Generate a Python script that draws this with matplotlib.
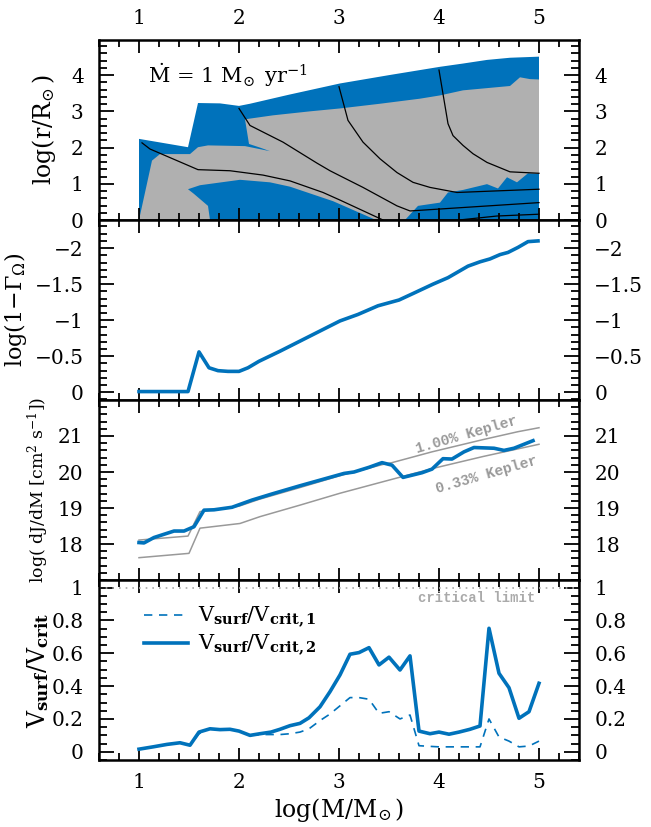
import matplotlib
matplotlib.use('Agg')
import matplotlib.pyplot as plt
from matplotlib.ticker import MultipleLocator, FixedLocator, FuncFormatter

plt.rcParams['font.family'] = ['DejaVu Serif']
plt.rcParams['mathtext.fontset'] = 'dejavuserif'

BLUE = '#0072BB'
GRAY_FILL = '#B0B0B0'
GRAY_LINE = '#999999'

# --- panel 1: Kippenhahn-type structure (log r vs log M) ---
kip_top_x = [1.0, 1.49, 1.59, 1.81, 2.0, 2.11, 2.5, 3.01, 3.5, 4.01, 4.24, 4.48, 4.71, 5.0]
kip_top_y = [2.24, 2.01, 3.23, 3.22, 3.15, 3.21, 3.46, 3.77, 4.0, 4.23, 4.32, 4.42, 4.48, 4.51]

rad_x = [1.0, 1.13, 1.21, 1.51, 1.59, 1.69, 2.06, 2.31, 2.22, 2.10, 2.06, 2.11, 2.34, 2.71,
         3.01, 3.41, 3.81, 4.01, 4.24, 4.71, 4.81, 4.91, 5.0, 5.0]
rad_y = [0.0, 1.64, 1.82, 1.82, 2.01, 2.06, 2.04, 1.90, 1.99, 2.10, 2.78, 2.80, 2.89, 3.0,
         3.08, 3.21, 3.35, 3.44, 3.58, 3.70, 3.94, 3.89, 3.88, 0.0]

conv1_x = [1.49, 1.61, 2.01, 2.31, 2.51, 2.94, 3.37, 1.71, 1.69, 1.55]
conv1_y = [0.85, 0.96, 1.11, 1.04, 0.92, 0.52, 0.0, 0.0, 0.39, 0.72]

conv2_x = [3.66, 3.79, 4.01, 4.09, 4.24, 4.48, 4.59, 4.68, 4.78, 4.89, 5.0, 5.0]
conv2_y = [0.0, 0.39, 0.48, 0.76, 0.83, 0.99, 0.87, 1.18, 1.04, 1.29, 1.27, 0.0]

mline1_x = [1.03, 1.11, 1.59, 1.91, 2.24, 2.51, 2.84, 3.01, 3.44]
mline1_y = [2.13, 1.96, 1.39, 1.36, 1.24, 1.08, 0.76, 0.55, 0.0]
mline2_x = [2.0, 2.11, 2.44, 2.78, 2.91, 3.01, 3.24, 3.58, 3.71, 5.0]
mline2_y = [3.08, 2.61, 2.15, 1.57, 1.36, 1.22, 0.90, 0.39, 0.25, 0.48]
mline3_x = [3.0, 3.09, 3.24, 3.41, 3.58, 3.74, 3.91, 4.18, 5.0]
mline3_y = [3.68, 2.75, 2.15, 1.69, 1.31, 1.04, 0.90, 0.76, 0.85]
mline4_x = [4.0, 4.09, 4.14, 4.24, 4.34, 4.48, 4.71, 5.0]
mline4_y = [4.14, 2.66, 2.33, 2.06, 1.83, 1.59, 1.33, 1.29]
mline5_x = [4.2, 4.58, 5.0]
mline5_y = [0.0, 0.11, 0.16]

# --- panel 2: log(1 - Gamma_Omega) ---
gam_x = [1.0, 1.49, 1.60, 1.70, 1.79, 1.89, 2.0, 2.09, 2.2, 2.41, 2.61, 2.81, 3.01, 3.19,
         3.39, 3.6, 3.74, 3.94, 4.09, 4.29, 4.41, 4.51, 4.61, 4.69, 4.79, 4.89, 4.99]
gam_y = [-0.01, -0.01, -0.56, -0.34, -0.30, -0.29, -0.29, -0.34, -0.43, -0.57, -0.71, -0.85,
         -0.99, -1.08, -1.20, -1.28, -1.37, -1.50, -1.59, -1.75, -1.81, -1.85, -1.91, -1.94,
         -2.01, -2.09, -2.10]

# --- panel 3: specific angular momentum ---
dj_x = [1.0, 1.05, 1.15, 1.35, 1.45, 1.55, 1.65, 1.75, 1.93, 2.13, 2.33, 2.6, 2.87, 3.05,
        3.15, 3.3, 3.43, 3.53, 3.64, 3.83, 3.93, 4.04, 4.13, 4.25, 4.35, 4.55, 4.65, 4.75, 4.94]
dj_y = [18.04, 18.03, 18.18, 18.36, 18.36, 18.48, 18.94, 18.95, 19.02, 19.22, 19.39, 19.61,
        19.82, 19.96, 20.0, 20.13, 20.26, 20.19, 19.85, 19.98, 20.08, 20.37, 20.36, 20.56,
        20.68, 20.66, 20.6, 20.66, 20.87]
kep1_x = [1.0, 1.49, 1.61, 2.0, 2.2, 2.6, 3.0, 3.44, 3.53, 3.93, 4.44, 4.79, 5.0]
kep1_y = [18.11, 18.22, 18.9, 19.05, 19.24, 19.56, 19.89, 20.21, 20.26, 20.56, 20.9, 21.12, 21.23]
kep033_x = [1.0, 1.5, 1.61, 2.01, 2.21, 2.61, 3.01, 3.44, 3.94, 4.44, 5.0]
kep033_y = [17.62, 17.74, 18.44, 18.57, 18.76, 19.08, 19.41, 19.73, 20.10, 20.43, 20.77]
dj_ticks = [18, 19, 20, 21]

# --- panel 4: surface velocity over critical ---
vs_x = [1.0, 1.14, 1.28, 1.41, 1.51, 1.6, 1.71, 1.81, 1.91, 2.0, 2.11, 2.21, 2.32, 2.41,
        2.51, 2.61, 2.7, 2.81, 2.91, 3.01, 3.11, 3.2, 3.3, 3.4, 3.5, 3.61, 3.71, 3.8, 3.91,
        4.0, 4.1, 4.2, 4.31, 4.41, 4.5, 4.6, 4.7, 4.8, 4.9, 5.0]
vcrit2 = [0.016, 0.03, 0.045, 0.055, 0.04, 0.12, 0.14, 0.135, 0.137, 0.126, 0.10, 0.11,
          0.12, 0.137, 0.159, 0.173, 0.207, 0.274, 0.366, 0.468, 0.594, 0.604, 0.634, 0.529,
          0.576, 0.498, 0.584, 0.126, 0.11, 0.12, 0.107, 0.12, 0.137, 0.157, 0.752, 0.478,
          0.39, 0.204, 0.244, 0.417]
vcrit1 = [0.016, 0.03, 0.045, 0.055, 0.04, 0.11, 0.14, 0.135, 0.137, 0.126, 0.10, 0.105,
          0.105, 0.105, 0.11, 0.12, 0.14, 0.19, 0.23, 0.28, 0.33, 0.33, 0.32, 0.234, 0.244,
          0.20, 0.224, 0.037, 0.033, 0.03, 0.03, 0.03, 0.03, 0.03, 0.2, 0.09, 0.065, 0.03,
          0.035, 0.065]


def fmt(v, pos):
    s = f'{v:g}'
    if s == '-0':
        s = '0'
    return s.replace('-', '\u2212')


fig = plt.figure(figsize=(6.51, 8.27), dpi=100)
W, H = 651.0, 827.0
left, width = 99 / W, 480 / W
tops = [40, 220, 400, 580]
axes = []
for t in tops:
    ax = fig.add_axes([left, 1 - (t + 180) / H, width, 180 / H])
    axes.append(ax)
ax1, ax2, ax3, ax4 = axes

for ax in axes:
    ax.set_xlim(0.6, 5.4)
    ax.xaxis.set_major_locator(MultipleLocator(1))
    ax.xaxis.set_minor_locator(MultipleLocator(0.2))
    ax.yaxis.set_major_formatter(FuncFormatter(fmt))
    ax.tick_params(which='both', direction='in', top=True, right=True,
                   labelleft=True, labelright=True, labelbottom=False,
                   labelsize=14.5, width=1.3)
    ax.tick_params(axis='x', which='major', length=9, pad=9)
    ax.tick_params(axis='x', which='minor', length=5)
    ax.tick_params(axis='y', which='major', length=11, pad=11)
    ax.tick_params(axis='y', which='minor', length=6)
    for sp in ax.spines.values():
        sp.set_linewidth(1.8)

# panel 1
ax1.fill(kip_top_x + [5.0, 1.0], kip_top_y + [0.0, 0.0], color=BLUE, lw=0)
ax1.fill(rad_x, rad_y, color=GRAY_FILL, lw=0)
ax1.fill(conv1_x, conv1_y, color=BLUE, lw=0)
ax1.fill(conv2_x, conv2_y, color=BLUE, lw=0)
for mx, my in [(mline1_x, mline1_y), (mline2_x, mline2_y), (mline3_x, mline3_y),
               (mline4_x, mline4_y), (mline5_x, mline5_y)]:
    ax1.plot(mx, my, color='black', lw=0.9)
ax1.set_ylim(0, 4.97)
ax1.yaxis.set_major_locator(MultipleLocator(1))
ax1.yaxis.set_minor_locator(MultipleLocator(0.2))
ax1.tick_params(axis='x', labeltop=True)
ax1.text(1.09, 4.0, r'$\dot{\mathrm{M}}$ = 1 M$_{\!\odot}$ yr$^{-1}$', fontsize=15,
         va='center', ha='left')
ax1.set_ylabel(r'log(r/R$_{\!\odot}$)', fontsize=17)

# panel 2
ax2.plot(gam_x, gam_y, color=BLUE, lw=2.6)
ax2.set_ylim(0.107, -2.39)
ax2.yaxis.set_major_locator(MultipleLocator(0.5))
ax2.yaxis.set_minor_locator(MultipleLocator(0.1))
ax2.set_ylabel(r'log(1$-\Gamma_\Omega$)', fontsize=16)

# panel 3
ax3.plot(kep1_x, kep1_y, color=GRAY_LINE, lw=1.1)
ax3.plot(kep033_x, kep033_y, color=GRAY_LINE, lw=1.1)
ax3.plot(dj_x, dj_y, color=BLUE, lw=2.6)
ax3.set_ylim(17.0, 22.0)
ax3.yaxis.set_major_locator(FixedLocator(dj_ticks))
ax3.yaxis.set_minor_locator(MultipleLocator(0.2))
ax3.text(4.28, 21.03, '1.00% Kepler', rotation=16, color=GRAY_LINE, fontsize=10.5,
         family='Liberation Mono', weight='bold', ha='center', va='center')
ax3.text(4.48, 19.92, '0.33% Kepler', rotation=16, color=GRAY_LINE, fontsize=10.5,
         family='Liberation Mono', weight='bold', ha='center', va='center')
ax3.set_ylabel(r'log( dJ/dM [cm$^2$ s$^{-1}$])', fontsize=12.5)

# panel 4
ax4.axhline(1.0, color='#AAAAAA', lw=1.2, ls=(0, (1, 3)))
ax4.plot(vs_x, vcrit1, color=BLUE, lw=1.2, ls=(0, (5, 4)),
         label=r'V$_{\mathbf{surf}}$/V$_{\mathbf{crit,1}}$')
ax4.plot(vs_x, vcrit2, color=BLUE, lw=2.6,
         label=r'V$_{\mathbf{surf}}$/V$_{\mathbf{crit,2}}$')
ax4.set_ylim(-0.05, 1.046)
ax4.yaxis.set_major_locator(MultipleLocator(0.2))
ax4.yaxis.set_minor_locator(MultipleLocator(0.05))
ax4.text(4.96, 0.935, 'critical limit', color='#AAAAAA', fontsize=10,
         family='Liberation Mono', weight='bold', ha='right', va='center')
ax4.legend(loc='upper left', bbox_to_anchor=(0.076, 0.907), frameon=False, fontsize=15,
           handlelength=2.1, handletextpad=0.5, labelspacing=0.15, borderaxespad=0)
ax4.tick_params(axis='x', labelbottom=True)
ax4.set_xlabel(r'log(M/M$_{\!\odot}$)', fontsize=17, labelpad=3)
ax4.set_ylabel(r'V$_{\mathbf{surf}}$/V$_{\mathbf{crit}}$', fontsize=17)

ax1.yaxis.set_label_coords(-0.085, 0.5)
ax2.yaxis.set_label_coords(-0.145, 0.5)
for ax in (ax3, ax4):
    ax.yaxis.set_label_coords(-0.10, 0.5)

fig.savefig('out.png', dpi=100)
